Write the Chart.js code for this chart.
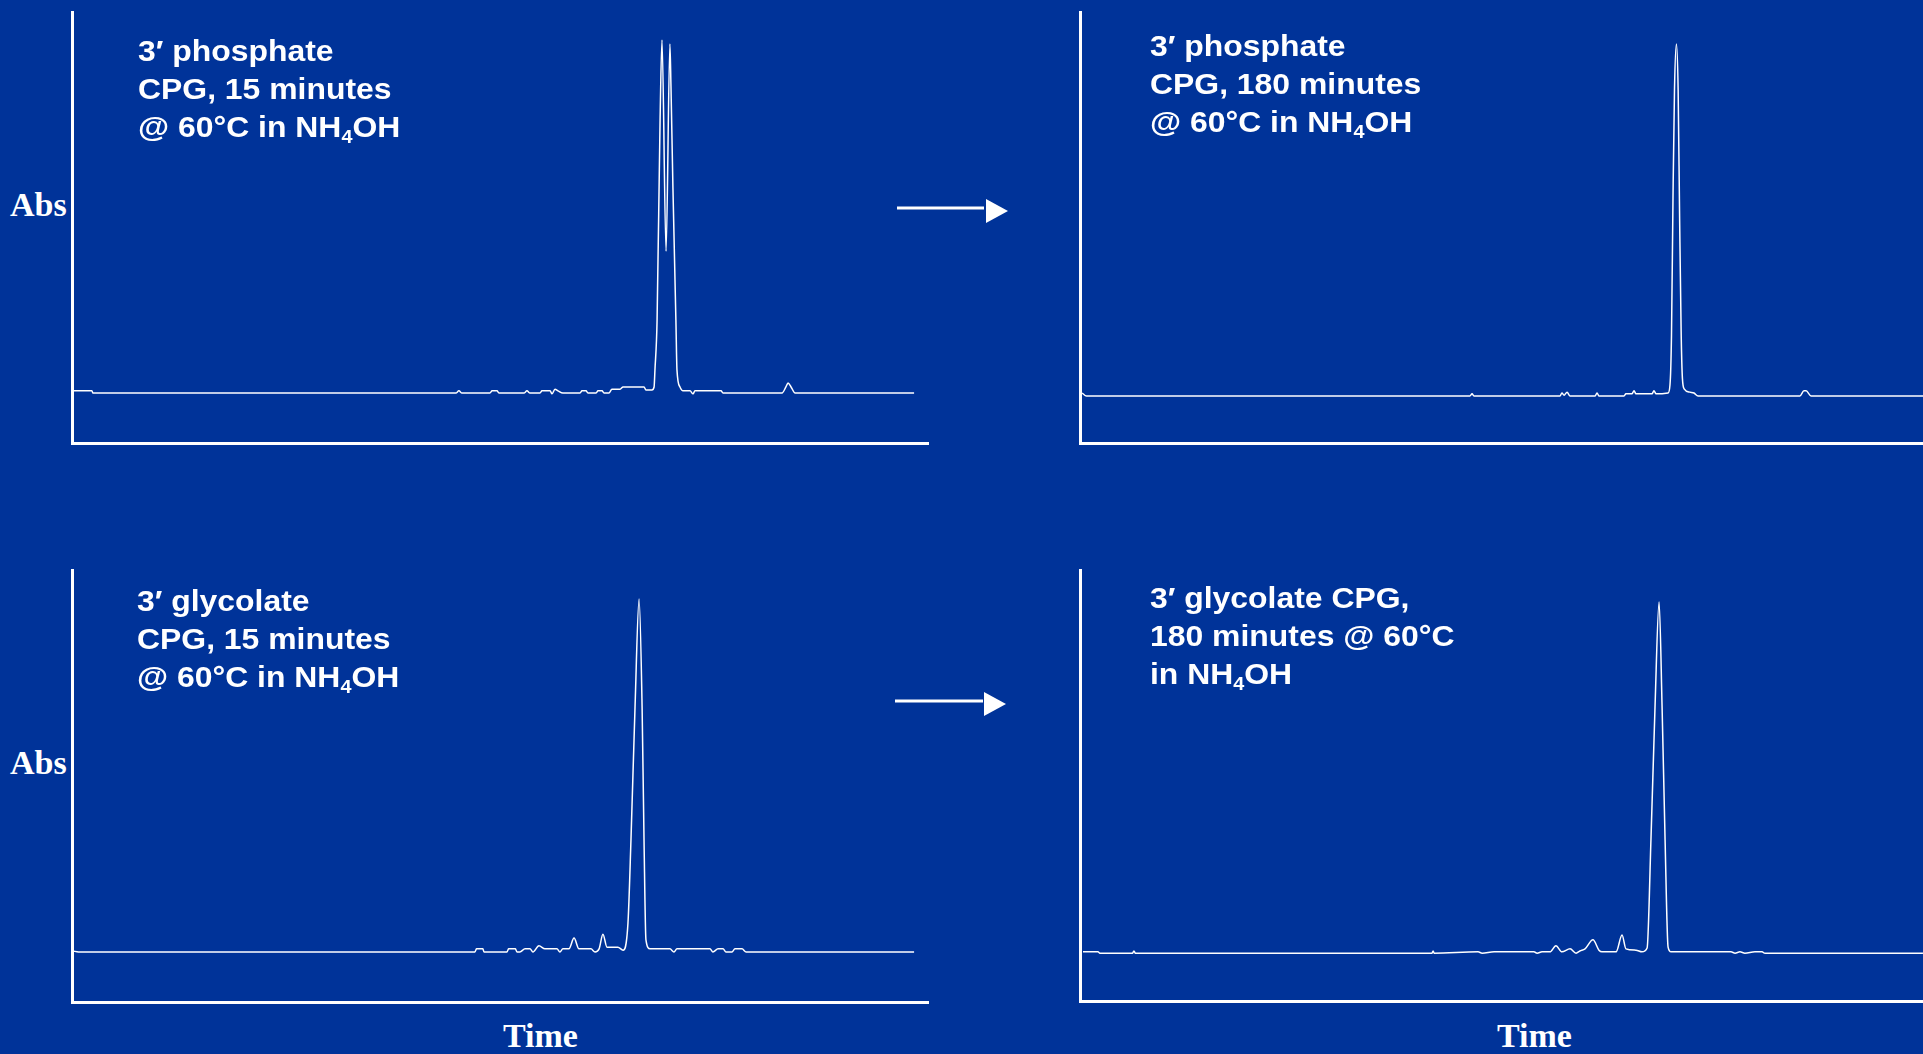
<!DOCTYPE html>
<html>
<head>
<meta charset="utf-8">
<script src="https://cdn.jsdelivr.net/npm/chart.js@4.4.1/dist/chart.umd.min.js"></script>
<style>
  html, body { margin: 0; padding: 0; }
  body {
    width: 1923px; height: 1054px; overflow: hidden; position: relative;
    background: #003399;
  }
  canvas { position: absolute; }
  .note {
    position: absolute; color: #fff; white-space: nowrap;
    font-family: "Liberation Sans", Arial, sans-serif; font-weight: bold;
    font-size: 29px; line-height: 38px;
    transform: scaleX(1.1); transform-origin: left top;
  }
  .note .sub { font-size: 18px; position: relative; top: 6px; }
  .axis-label {
    position: absolute; color: #fff; white-space: nowrap;
    font-family: "Liberation Serif", "Times New Roman", serif; font-weight: bold;
    font-size: 34px; line-height: 34px;
  }
  svg.arrow { position: absolute; left: 0; top: 0; }
</style>
</head>
<body>

<canvas id="c1"></canvas>
<canvas id="c2"></canvas>
<canvas id="c3"></canvas>
<canvas id="c4"></canvas>

<div class="note" style="left:138px; top:32px;">3′ phosphate<br>CPG, 15 minutes<br>@ 60°C in NH<span class="sub">4</span>OH</div>
<div class="note" style="left:1150px; top:27px;">3′ phosphate<br>CPG, 180 minutes<br>@ 60°C in NH<span class="sub">4</span>OH</div>
<div class="note" style="left:137px; top:582px;">3′ glycolate<br>CPG, 15 minutes<br>@ 60°C in NH<span class="sub">4</span>OH</div>
<div class="note" style="left:1150px; top:579px;">3′ glycolate CPG,<br>180 minutes @ 60°C<br>in NH<span class="sub">4</span>OH</div>

<div class="axis-label" style="left:10px; top:188px;">Abs</div>
<div class="axis-label" style="left:10px; top:746px;">Abs</div>
<div class="axis-label" style="left:503px; top:1019px;">Time</div>
<div class="axis-label" style="left:1497px; top:1019px;">Time</div>

<svg class="arrow" width="1923" height="1054">
  <line x1="897" y1="208" x2="984" y2="208" stroke="#fff" stroke-width="3"/>
  <polygon points="986,199 986,223 1008,211" fill="#fff"/>
  <line x1="895" y1="701" x2="983" y2="701" stroke="#fff" stroke-width="3"/>
  <polygon points="984,692 984,716 1006,704" fill="#fff"/>
</svg>

<script>
// time axis (arbitrary minutes) and absorbance (arbitrary units, 0-100)
const timeMax = 40;
const absMax = 100;

// 3' phosphate CPG, 15 min
const p1Time = [0, 0.05, 0.93, 0.98, 17.94, 18.08, 18.22, 19.53, 19.63, 19.86, 19.95,
  21.12, 21.26, 21.4, 21.87, 21.96, 22.34, 22.43, 22.57, 22.71, 22.94,
  23.74, 23.83, 24.02, 24.11, 24.49, 24.58, 24.77, 24.86,
  25.09, 25.23, 25.61, 25.75, 26.73, 26.82, 27.1,
  27.2, 27.24, 27.34, 27.48, 27.57, 27.76, 27.94, 27.99, 28.08, 28.22, 28.27, 28.41,
  28.55, 28.88, 29.02, 29.11, 30.33, 30.42,
  33.18, 33.36, 33.46, 33.6, 33.79, 39.35];
const p1Abs = [12.1, 12.1, 12.1, 11.6, 11.6, 12.1, 11.6, 11.6, 12.1, 12.1, 11.6,
  11.6, 12.1, 11.6, 11.6, 12.1, 12.1, 11.4, 12.5, 12.1, 11.6,
  11.6, 12.1, 12.1, 11.6, 11.6, 12.1, 12.1, 11.6,
  11.6, 12.5, 12.5, 13.0, 13.0, 12.3, 12.3,
  13.0, 16.9, 28.5, 74.9, 93.5, 44.5, 92.6, 82.6, 59.4, 28.5, 16.9, 13.0,
  12.1, 12.1, 11.4, 12.1, 12.1, 11.6,
  11.6, 13.0, 13.9, 13.0, 11.6, 11.6];

// 3' phosphate CPG, 180 min
const p2Time = [0.1, 0.3, 18.22, 18.32, 18.41, 22.43, 22.52, 22.62, 22.76, 22.9,
  24.07, 24.16, 24.25, 25.42, 25.51, 25.79, 25.89, 25.98, 26.73, 26.82, 26.92, 27.48,
  27.57, 27.64, 27.71, 27.78, 27.87, 27.95, 28.02, 28.09, 28.15, 28.24, 28.5, 28.69, 28.88,
  33.64, 33.83, 33.93, 34.16, 39.4];
const p2Abs = [11.6, 10.9, 10.9, 11.4, 10.9, 10.9, 11.6, 11.1, 11.8, 10.9,
  10.9, 11.6, 10.9, 10.9, 11.4, 11.4, 12.1, 11.4, 11.4, 12.1, 11.4, 11.6,
  13.5, 25, 56.8, 82, 92.6, 82, 52, 26, 15, 12.5, 11.8, 11.6, 10.9,
  10.9, 12.1, 12.1, 10.9, 10.9];

// 3' glycolate CPG, 15 min
const p3Time = [0.05, 0.3, 18.83, 18.9, 19.2, 19.25, 20.33, 20.4, 20.72, 20.79, 20.93, 21.17, 21.4, 21.54,
  21.82, 22.1, 22.66, 22.8, 22.94, 23.22, 23.46, 23.69, 24.25, 24.44, 24.63, 24.81, 25.0,
  25.51, 25.75, 25.98, 26.12, 26.31, 26.5, 26.64, 26.73, 26.82, 27.01,
  27.94, 28.13, 28.27, 29.81, 29.95, 30.19, 30.42, 30.56, 30.84, 30.98, 31.31, 31.5, 39.35];
const p3Abs = [11.8, 11.6, 11.6, 12.3, 12.3, 11.6, 11.6, 12.3, 12.3, 11.6, 11.6, 12.3, 12.3, 11.6,
  13.0, 12.3, 12.3, 11.6, 12.3, 12.3, 14.8, 12.3, 12.3, 11.6, 12.3, 15.7, 12.7,
  12.7, 12.0, 18.3, 37.5, 68.3, 93.3, 68.3, 37.5, 14.4, 12.3,
  12.3, 11.6, 12.3, 12.3, 11.6, 12.3, 12.3, 11.6, 11.6, 12.3, 12.3, 11.6, 11.6];

// 3' glycolate CPG, 180 min
const p4Time = [0.14, 0.84, 0.93, 2.45, 2.52, 2.59, 16.45, 16.5, 16.55, 18.6, 18.79, 19.35, 19.58,
  20.79, 21.21, 21.36, 21.59, 21.96, 22.24, 22.52, 22.9, 23.18, 23.36, 23.6, 23.97,
  24.25, 24.39, 25.05, 25.33, 25.51, 25.98, 26.26,
  26.5, 26.68, 26.87, 27.06, 27.2, 27.34, 27.48, 27.62,
  30.42, 30.61, 30.84, 31.07, 31.54, 31.87, 32.01, 39.39];
const p4Abs = [11.4, 11.4, 11.1, 11.1, 11.6, 11.1, 11.1, 11.6, 11.1, 11.4, 11.1, 11.4, 11.4,
  11.4, 11.4, 11.1, 11.4, 11.4, 12.8, 11.4, 12.1, 11.1, 11.6, 12.1, 14.2,
  11.8, 11.4, 11.4, 15.3, 12.1, 11.8, 11.4,
  12.3, 37.4, 68.2, 92.6, 68.2, 37.4, 12.5, 11.4,
  11.4, 11.1, 11.4, 11.1, 11.4, 11.4, 11.1, 11.1];

const PAD = 4;

function makeChart(id, left, top, width, height, times, abs) {
  const canvas = document.getElementById(id);
  canvas.width = width + PAD * 2;
  canvas.height = height + PAD * 2;
  canvas.style.left = (left - PAD) + 'px';
  canvas.style.top = (top - PAD) + 'px';

  const points = times.map((t, i) => ({ x: t, y: abs[i] }));

  return new Chart(canvas, {
    type: 'line',
    data: {
      datasets: [{
        data: points,
        borderColor: '#ffffff',
        borderWidth: 1.5,
        pointRadius: 0,
        cubicInterpolationMode: 'monotone',
        fill: false
      }]
    },
    options: {
      responsive: false,
      animation: false,
      events: [],
      layout: { padding: PAD },
      plugins: { legend: { display: false }, tooltip: { enabled: false } },
      scales: {
        x: {
          type: 'linear', min: 0, max: timeMax,
          ticks: { display: false },
          grid: { display: false, drawTicks: false },
          border: { display: true, color: '#ffffff', width: 3 },
          afterFit: (scale) => { scale.height = 0; }
        },
        y: {
          type: 'linear', min: 0, max: absMax,
          ticks: { display: false },
          grid: { display: false, drawTicks: false },
          border: { display: true, color: '#ffffff', width: 3 },
          afterFit: (scale) => { scale.width = 0; }
        }
      }
    }
  });
}

makeChart('c1', 72, 12, 856, 431, p1Time, p1Abs);
makeChart('c2', 1080, 12, 856, 431, p2Time, p2Abs);
makeChart('c3', 72, 570, 856, 432, p3Time, p3Abs);
makeChart('c4', 1080, 570, 856, 431, p4Time, p4Abs);
</script>
</body>
</html>
